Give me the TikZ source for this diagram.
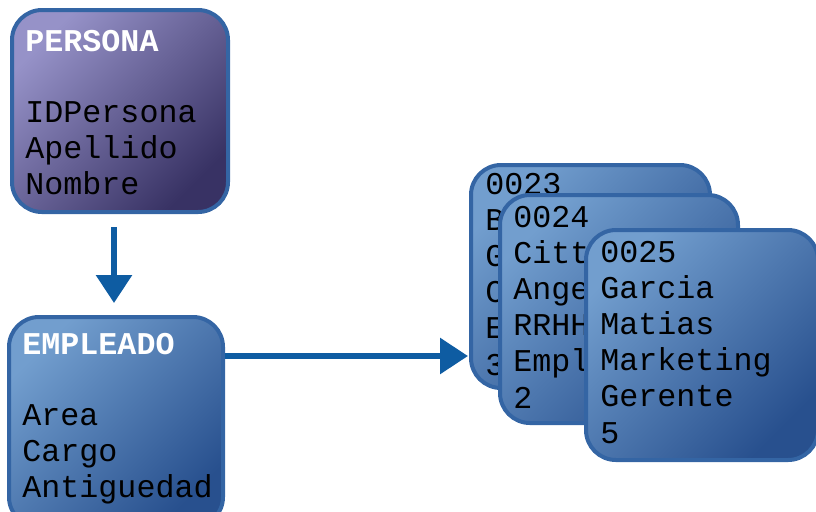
\documentclass[tikz,border=0pt]{standalone}
\usepackage{fontspec}
\setmonofont{Liberation Mono}
\usetikzlibrary{arrows.meta}

\definecolor{rimblue}{RGB}{52,101,164}
\definecolor{lightblue}{RGB}{114,158,206}
\definecolor{deepblue}{RGB}{40,80,142}
\definecolor{lightlilac}{RGB}{150,146,200}
\definecolor{deeplilac}{RGB}{56,50,100}
\definecolor{arrowblue}{RGB}{14,92,162}

\tikzset{
    card/.style={draw=rimblue, line width=2pt, rounded corners=15pt,
        top color=lightblue, bottom color=deepblue, shading angle=45},
    lilac/.style={top color=lightlilac, bottom color=deeplilac, shading angle=45},
    fld/.style={anchor=base west, inner sep=0pt,
        font=\ttfamily\fontsize{15.85pt}{18pt}\selectfont},
    ttl/.style={fld, text=white,
        font=\ttfamily\bfseries\fontsize{15.85pt}{18pt}\selectfont},
    link/.style={draw=arrowblue, line width=3pt,
        -{Triangle[width=17.5pt, length=14pt]}},
}

\begin{document}
\begin{tikzpicture}[x=0.5pt, y=-0.5pt]

    \useasboundingbox (0,0) rectangle (816,511);
    \clip (0,0) rectangle (816,511);

    \pgfmathsetmacro{\lh}{36.2} % line pitch

    % Classes
    \node[card, lilac, minimum width=108pt, minimum height=101pt] (persona) at (120,111) {};
    \node[ttl] (personaT) at (25,51) {PERSONA};
    \foreach \f [count=\k] in {IDPersona,Apellido,Nombre}
        \node[fld] (persona\k) at (25,{122+\lh*(\k-1)}) {\f};

    \node[card, minimum width=107pt, minimum height=105pt] (empleado) at (116,422) {};
    \node[ttl] (empleadoT) at (22,354) {EMPLEADO};
    \foreach \f [count=\k] in {Area,Cargo,Antiguedad}
        \node[fld] (empleado\k) at (22,{425+\lh*(\k-1)}) {\f};

    % Records (only what shows past the card in front)
    \foreach \rec/\cx/\cy/\w/\h/\tx/\ty/\rows in {
        23/590.5/276.5/239/223/485/194/{0023,B,G,C,E,3},
        24/619/309/238/228/513/227/{0024,Citt,Ange,RRHH,Empl,2},
        25/702/345/232/230/600/262/{0025,Garcia,Matias,Marketing,Gerente,5}}
        {
            \node[card, minimum width=\w*0.5pt, minimum height=\h*0.5pt] (r\rec) at (\cx,\cy) {};
            \foreach \row [count=\k] in \rows
                \node[fld] (r\rec l\k) at (\tx,{\ty+\lh*(\k-1)}) {\row};
        }

    % Links
    \coordinate (linkY) at (0,356);
    \draw[link, shorten <=6.5pt, shorten >=6pt]
        ([xshift=-3pt]persona.south) -- ([xshift=-3pt]persona.south |- empleado.north);
    \draw[link, shorten >=0.5pt] (empleado.east |- linkY) -- (r23.west |- linkY);

\end{tikzpicture}
\end{document}
